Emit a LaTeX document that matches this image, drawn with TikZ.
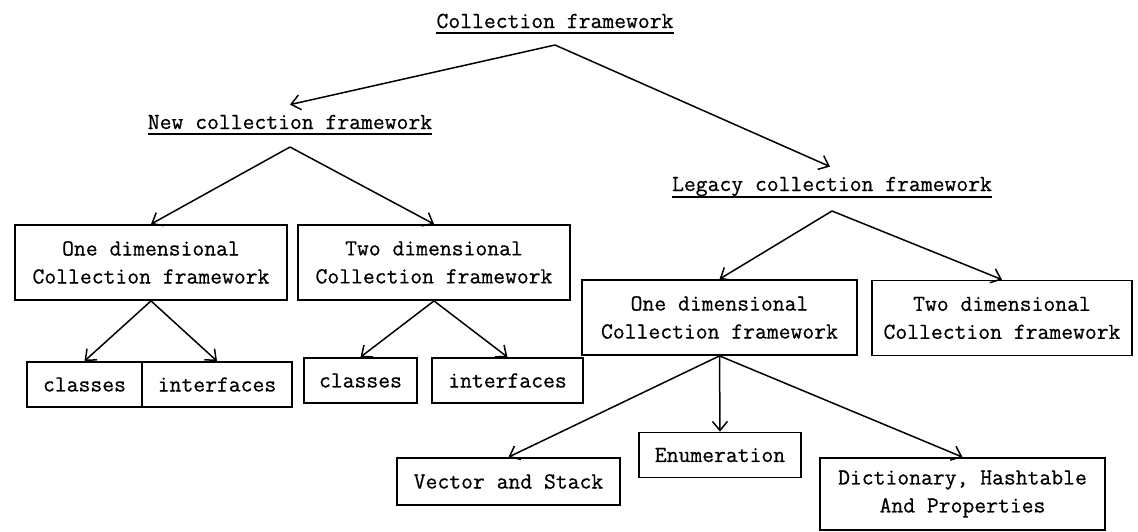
\documentclass[tikz,border=0pt]{standalone}
\usepackage{fontspec}
\setmonofont[FakeBold=0.6]{Latin Modern Mono}
\usetikzlibrary{arrows.meta}
\begin{document}
\begin{tikzpicture}[x=1pt,y=-1pt,
  box/.style={draw, line width=1.8pt, inner sep=0pt, align=center, font=\ttfamily\fontsize{23}{28}\selectfont},
  ttl/.style={inner xsep=0pt, inner ysep=0pt, anchor=base, font=\ttfamily\fontsize{23}{28}\selectfont},
  arr/.style={line width=1.5pt, -{Straight Barb[length=9pt,width=15pt,line width=1.5pt]}},
  ul/.style={line width=1.6pt}]
\useasboundingbox (0,0) rectangle (1138,531);

% titles
\node[ttl] (top) at (555,28) {Collection framework};
\node[ttl] (new) at (290,129) {New collection framework};
\node[ttl] (leg) at (832,191) {Legacy collection framework};
\draw[ul] ([yshift=-5pt]top.base west) -- ([yshift=-5pt]top.base east);
\draw[ul] ([yshift=-5pt]new.base west) -- ([yshift=-5pt]new.base east);
\draw[ul] ([yshift=-6pt]leg.base west) -- ([yshift=-6pt]leg.base east);

% boxes
\node[box, minimum width=272pt, minimum height=75pt] (L1) at (151,262.5) {One dimensional\\Collection framework};
\node[box, minimum width=272pt, minimum height=75pt] (L2) at (434,262.5) {Two dimensional\\Collection framework};
\node[box, minimum width=115pt, minimum height=45pt] (c1) at (84.5,384.5) {classes};
\node[box, minimum width=150pt, minimum height=45pt] (i1) at (217,384.5) {interfaces};
\node[box, minimum width=113pt, minimum height=45pt] (c2) at (360.5,380.5) {classes};
\node[box, minimum width=151pt, minimum height=45pt] (i2) at (507.5,380.5) {interfaces};
\node[box, minimum width=275pt, minimum height=75pt] (R1) at (719.5,317.5) {One dimensional\\Collection framework};
\node[box, minimum width=260pt, minimum height=75pt] (R2) at (1002,318) {Two dimensional\\Collection framework};
\node[box, minimum width=223pt, minimum height=47pt] (vs) at (508.5,481.5) {Vector and Stack};
\node[box, minimum width=162pt, minimum height=45pt] (en) at (720,455) {Enumeration};
\node[box, minimum width=285pt, minimum height=72pt] (di) at (962.5,494) {Dictionary, Hashtable\\And Properties};

% apex coordinates
\coordinate (a0) at (555,45);
\coordinate (a1) at (290,147);
\coordinate (a2) at (832,211);

% connectors
\draw[arr] (a0) -- ([yshift=10pt]new.north);
\draw[arr] (a0) -- ([yshift=10pt,xshift=-2pt]leg.north);
\draw[arr] (a1) -- (L1.north);
\draw[arr] (a1) -- (L2.north);
\draw[arr] (L1.south) -- (c1.north);
\draw[arr] (L1.south) -- (i1.north);
\draw[arr] (L2.south) -- (c2.north);
\draw[arr] (L2.south) -- (i2.north);
\draw[arr] (a2) -- (R1.north);
\draw[arr] (a2) -- (R2.north);
\draw[arr] (R1.south) -- (vs.north);
\draw[arr] (R1.south) -- (en.north);
\draw[arr] (R1.south) -- (di.north);
\end{tikzpicture}
\end{document}
